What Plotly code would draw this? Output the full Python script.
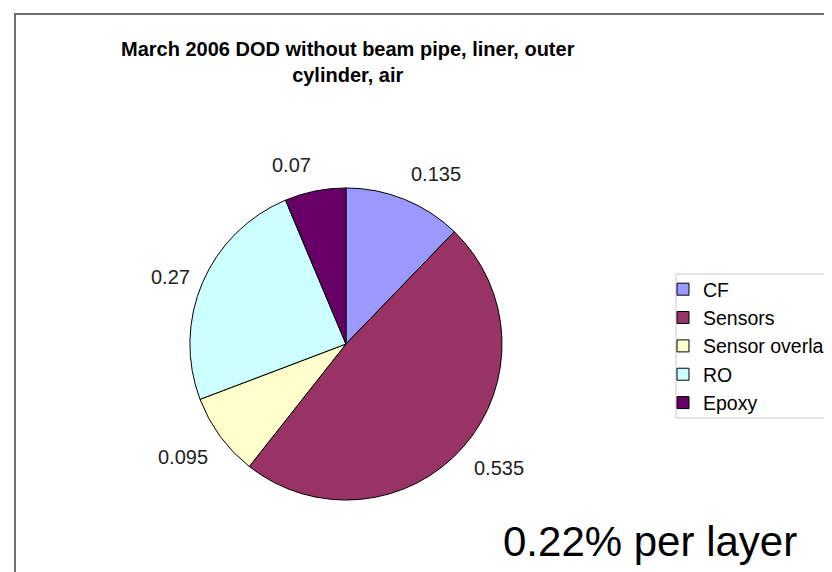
import math
import plotly.graph_objects as go

categories = ["CF", "Sensors", "Sensor overlap", "RO", "Epoxy"]
values = [0.135, 0.535, 0.095, 0.27, 0.07]
value_labels = ["0.135", "0.535", "0.095", "0.27", "0.07"]
colors = ["#9999FF", "#993366", "#FFFFCC", "#CCFFFF", "#660066"]
title_lines = ["March 2006 DOD without beam pipe, liner, outer", "cylinder, air"]
note_text = "0.22% per layer"

W, H = 832, 572
FONT = "Arial, Liberation Sans, sans-serif"

# pie geometry (pixels)
CX, CY, R = 340, 336, 157
dom_x = [(CX - R) / W, (CX + R) / W]
dom_y = [(H - CY - R) / H, (H - CY + R) / H]

fig = go.Figure(go.Pie(
    labels=categories,
    values=values,
    sort=False,
    direction="clockwise",
    rotation=0,
    marker=dict(colors=colors, line=dict(color="#000000", width=1)),
    textinfo="none",
    domain=dict(x=dom_x, y=dom_y),
    hoverinfo="label+value",
))

# data labels placed outside each slice at its mid angle (Excel style)
annotations = []
total = sum(values)
cum = 0.0
for v, txt in zip(values, value_labels):
    mid = (cum + v / 2) / total * 2 * math.pi
    cum += v
    s, c = math.sin(mid), math.cos(mid)
    rr = R + 12
    px = CX + rr * s
    py = CY - rr * c
    xa = "left" if s > 0.05 else ("right" if s < -0.05 else "center")
    ya = "bottom" if c > 0.5 else ("top" if c < -0.5 else "middle")
    annotations.append(dict(
        text=txt, x=px / W, y=1 - py / H, xref="paper", yref="paper",
        xanchor=xa, yanchor=ya, showarrow=False,
        font=dict(family=FONT, size=20, color="#222222"),
    ))

annotations.append(dict(
    text="<b>" + title_lines[0] + "</b><br><b>" + title_lines[1] + "</b>",
    x=342 / W, y=1 - 28 / H, xref="paper", yref="paper",
    xanchor="center", yanchor="top", showarrow=False,
    font=dict(family=FONT, size=20, color="#000000"),
))
annotations.append(dict(
    text=note_text, x=646 / W, y=1 - 533 / H, xref="paper", yref="paper",
    xanchor="center", yanchor="middle", showarrow=False,
    font=dict(family=FONT, size=42, color="#000000"),
))

fig.update_layout(
    width=W, height=H,
    margin=dict(l=0, r=0, t=0, b=0),
    paper_bgcolor="white",
    plot_bgcolor="white",
    showlegend=True,
    legend=dict(
        x=659 / W, y=1 - 262 / H, xanchor="left", yanchor="top",
        font=dict(family=FONT, size=19.5, color="#000000"),
        borderwidth=0, bgcolor="rgba(0,0,0,0)",
        tracegroupgap=0,
    ),
    shapes=[
        dict(type="rect", xref="paper", yref="paper",
             x0=7 / W, x1=1.05, y0=-0.05, y1=1 - 6 / H,
             line=dict(color="#6e6e6e", width=2), fillcolor="rgba(0,0,0,0)",
             layer="below"),
        dict(type="rect", xref="paper", yref="paper",
             x0=672 / W, x1=1.05, y0=1 - 410 / H, y1=1 - 266 / H,
             line=dict(color="#c8c8c8", width=1), fillcolor="rgba(0,0,0,0)",
             layer="below"),
    ],
    annotations=annotations,
)

fig.write_html("out.html")
